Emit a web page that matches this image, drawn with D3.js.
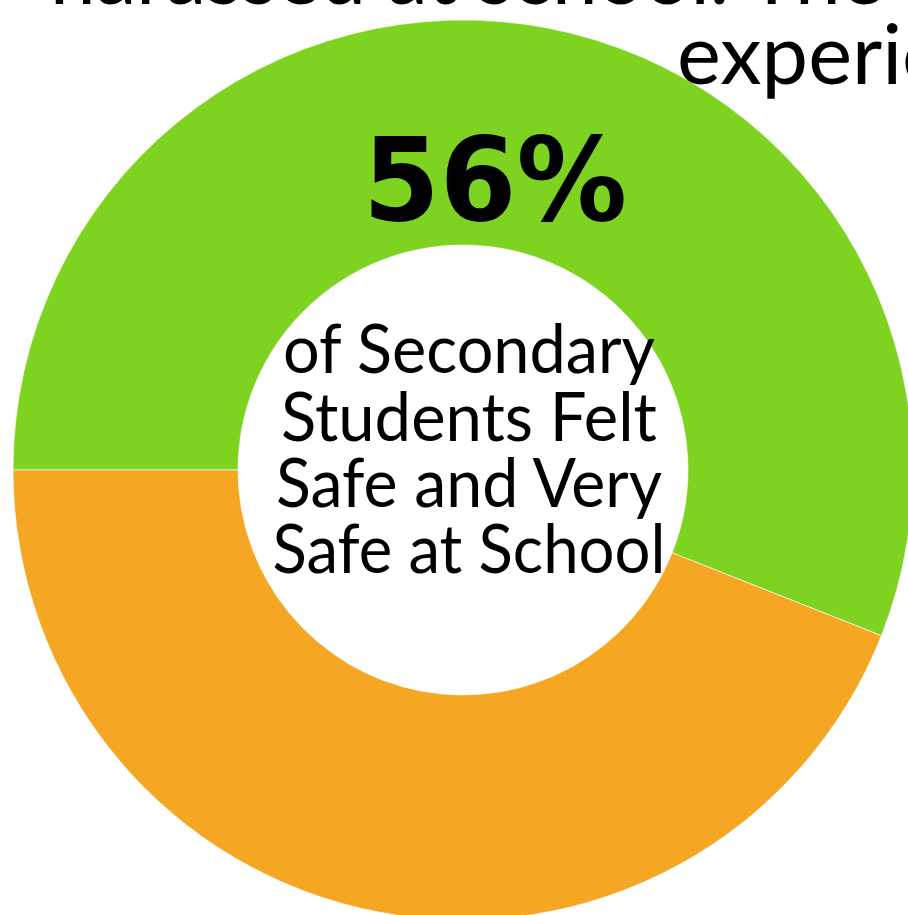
<!DOCTYPE html>
<html>
<head>
<meta charset="utf-8">
<script src="https://cdn.jsdelivr.net/npm/d3@7/dist/d3.min.js"></script>
<style>
  html, body { margin: 0; padding: 0; background: #fff; overflow: hidden; }
  svg { display: block; }
</style>
</head>
<body>
<svg id="chart" width="908" height="915"></svg>
<script>
// ---- data ----
const categories = ["Safe and Very Safe", "Other"];
const values = [56, 44];
const colors = ["#7ED321", "#F5A623"];
const bigLabel = "56%";
const centerLines = ["of Secondary", "Students Felt", "Safe and Very", "Safe at School"];
const topLines = ["harassed at school. The", "experienced"];

// ---- layout ----
const W = 908, H = 915;
const cx = 463, cy = 470, rOuter = 450, rInner = 225;

const svg = d3.select("#chart");

// background cut-off text at top (behind the donut)
svg.append("text")
  .attr("x", 467).attr("y", 4)
  .attr("text-anchor", "middle")
  .attr("font-family", "Lato")
  .attr("font-size", 83)
  .attr("textLength", 834)
  .attr("lengthAdjust", "spacingAndGlyphs")
  .attr("fill", "#000")
  .text(topLines[0]);

const pie = d3.pie().sort(null).value(d => d)
  .startAngle(-Math.PI / 2).endAngle(1.5 * Math.PI);
const arc = d3.arc().innerRadius(rInner).outerRadius(rOuter);

const g = svg.append("g").attr("transform", `translate(${cx},${cy})`);
g.selectAll("path.slice")
  .data(pie(values))
  .join("path")
  .attr("class", "slice")
  .attr("d", arc)
  .attr("fill", (d, i) => colors[i])
  .attr("stroke", "rgba(255,255,255,0.6)")
  .attr("stroke-width", 1);

svg.append("text")
  .attr("x", 677).attr("y", 84)
  .attr("font-family", "Lato")
  .attr("font-size", 83)
  .attr("fill", "#000")
  .text(topLines[1]);

// big percentage
svg.append("text")
  .attr("x", 495).attr("y", 220)
  .attr("text-anchor", "middle")
  .attr("font-family", "DejaVu Sans")
  .attr("font-weight", "bold")
  .attr("font-size", 116)
  .attr("textLength", 264)
  .attr("lengthAdjust", "spacingAndGlyphs")
  .attr("fill", "#000")
  .text(bigLabel);

// center text
const lineWidths = [372, 376, 386, 393];
const baselines = [373, 441, 507, 573];
svg.selectAll("text.center")
  .data(centerLines)
  .join("text")
  .attr("class", "center")
  .attr("x", 469)
  .attr("y", (d, i) => baselines[i])
  .attr("text-anchor", "middle")
  .attr("font-family", "Lato")
  .attr("font-size", 67)
  .attr("textLength", (d, i) => lineWidths[i])
  .attr("lengthAdjust", "spacingAndGlyphs")
  .attr("fill", "#000")
  .text(d => d);
</script>
</body>
</html>
